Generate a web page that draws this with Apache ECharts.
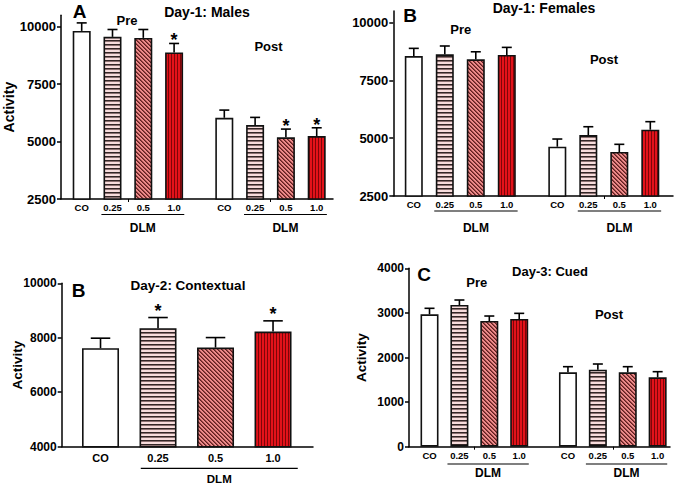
<!DOCTYPE html>
<html><head><meta charset="utf-8">
<script src="https://cdn.jsdelivr.net/npm/echarts@6/dist/echarts.min.js"></script>
<style>html,body{margin:0;padding:0;background:#fff}#c{width:680px;height:486px}</style>
</head><body><div id="c"></div>
<script>
// ---------- data ----------
const doseLabels = ['CO', '0.25', '0.5', '1.0', 'CO', '0.25', '0.5', '1.0'];
const dayPos = [0, 1, 2, 3, 4.63, 5.63, 6.63, 7.63];
const ctxLabels = ['CO', '0.25', '0.5', '1.0'];
const ctxPos = [0, 1, 2, 3];

const malesMean = [9817, 9557, 9513, 8878, 6035, 5717, 5183, 5239];
const malesSem = [348, 321, 365, 392, 335, 335, 360, 361];
const malesSig = [0, 0, 0, 1, 0, 0, 1, 1];

const femalesMean = [8555, 8630, 8413, 8600, 4632, 5138, 4403, 5369];
const femalesSem = [333, 360, 327, 330, 333, 359, 333, 347];
const femalesSig = [0, 0, 0, 0, 0, 0, 0, 0];

const contextMean = [7618, 8353, 7640, 8228];
const contextSem = [367, 390, 367, 393];
const contextSig = [0, 1, 0, 1];

const cuedMean = [2969, 3177, 2818, 2863, 1668, 1726, 1668, 1556];
const cuedSem = [134, 112, 112, 127, 126, 128, 126, 126];
const cuedSig = [0, 0, 0, 0, 0, 0, 0, 0];

const ticksDay1 = [2500, 5000, 7500, 10000];
const ticksCtx = [4000, 6000, 8000, 10000];
const ticksCued = [0, 1000, 2000, 3000, 4000];

// ---------- styles ----------
const FONT = '"Liberation Sans", Arial, sans-serif';

function makePattern(kind) {
  const c = document.createElement('canvas');
  let w = 4, h = 4;
  if (kind === 'vert') { w = 3; h = 3; }
  c.width = w; c.height = h;
  const g = c.getContext('2d');
  if (kind === 'horiz') {
    g.fillStyle = '#f7dcdc'; g.fillRect(0, 0, w, h);
    g.fillStyle = '#332626'; g.fillRect(0, 0, w, 1);
    g.fillStyle = '#8a7070'; g.fillRect(0, 1, w, 1);
  } else if (kind === 'diag') {
    g.fillStyle = '#ec8a8a'; g.fillRect(0, 0, w, h);
    for (let y = 0; y < h; y++) for (let x = 0; x < w; x++) {
      const k = ((x - y) % 4 + 4) % 4;
      if (k === 0) { g.fillStyle = '#5e2020'; g.fillRect(x, y, 1, 1); }
      else if (k === 1) { g.fillStyle = '#9a4444'; g.fillRect(x, y, 1, 1); }
    }
  } else {
    g.fillStyle = '#e3121a'; g.fillRect(0, 0, w, h);
    g.fillStyle = '#7d0508'; g.fillRect(0, 0, 1, h);
  }
  return { image: c, repeat: 'repeat', imageWidth: w, imageHeight: h };
}
const fills = ['#ffffff', makePattern('horiz'), makePattern('diag'), makePattern('vert')];

const panels = [
  { grid: { left: 61, top: 15.2, width: 272, height: 183.8 }, xMin: -0.672, xMax: 8.159,
    pos: dayPos, labels: doseLabels, mean: malesMean, sem: malesSem, sig: malesSig,
    yMin: 2500, yMax: 10500, yTicks: ticksDay1, yFont: 13, xFont: 9.5, xMargin: 3.5, barW: 18,
    name: 'Activity', nameGap: 45, nameFont: 14, starUp: 3, extraTicks: [1.5, 6.13],
    groups: [[1, 3], [5, 7]], lineL: -0.36, lineR: 0.33, lineDy: 15.5, textDy: 29, dlmFont: 12 },
  { grid: { left: 393.3, top: 11.1, width: 279.7, height: 184.9 }, xMin: -0.661, xMax: 8.362,
    pos: dayPos, labels: doseLabels, mean: femalesMean, sem: femalesSem, sig: femalesSig,
    yMin: 2500, yMax: 10500, yTicks: ticksDay1, yFont: 13, xFont: 9.5, xMargin: 3.5, barW: 18,
    name: '', nameGap: 46, nameFont: 14, starUp: 3, extraTicks: [6.13],
    groups: [[1, 3], [5, 7]], lineL: -0.34, lineR: 0.35, lineDy: 15, textDy: 31.5, dlmFont: 12 },
  { grid: { left: 61.7, top: 283.3, width: 251.3, height: 163.4 }, xMin: -0.675, xMax: 3.695,
    pos: ctxPos, labels: ctxLabels, mean: contextMean, sem: contextSem, sig: contextSig,
    yMin: 4000, yMax: 10000, yTicks: ticksCtx, yFont: 12, xFont: 11, xMargin: 6, barW: 37,
    name: 'Activity', nameGap: 37, nameFont: 13.5, starUp: 7, extraTicks: [],
    groups: [[1, 3]], lineL: -0.3, lineR: 0.43, lineDy: 21.6, textDy: 32.6, dlmFont: 11.5 },
  { grid: { left: 409, top: 268.3, width: 261, height: 178.4 }, xMin: -0.686, xMax: 8.043,
    pos: dayPos, labels: doseLabels, mean: cuedMean, sem: cuedSem, sig: cuedSig,
    yMin: 0, yMax: 4000, yTicks: ticksCued, yFont: 12, xFont: 9.5, xMargin: 3.5, barW: 18,
    name: 'Activity', nameGap: 41, nameFont: 13.5, starUp: 3, extraTicks: [1.5, 6.13],
    groups: [[1, 3], [5, 7]], lineL: -0.4, lineR: 0.32, lineDy: 17.3, textDy: 26.6, dlmFont: 12 }
];

const texts = [
  ['A', 79.5, 11, 19], ['Day-1: Males', 207, 12.3, 14], ['Pre', 127, 20, 13], ['Post', 268.5, 46, 13],
  ['B', 410, 15, 19], ['Day-1: Females', 544, 7.5, 14], ['Pre', 460.7, 29, 13], ['Post', 604, 59, 13],
  ['B', 78.5, 290, 19], ['Day-2: Contextual', 188, 285, 13.5],
  ['C', 424, 274, 19], ['Day-3: Cued', 550, 271, 13], ['Pre', 476.7, 282.7, 13], ['Post', 609, 314, 13]
];

function textEl(t, x, y, size) {
  return { type: 'text', x: x, y: y, silent: true,
    style: { text: t, fill: '#000', font: 'bold ' + size + 'px ' + FONT,
      align: 'center', verticalAlign: 'middle', textAlign: 'center', textVerticalAlign: 'middle' } };
}

const grids = [], xAxes = [], yAxes = [], series = [];
panels.forEach((p, i) => {
  grids.push(Object.assign({ containLabel: false }, p.grid));
  xAxes.push({
    type: 'value', gridIndex: i, min: p.xMin, max: p.xMax,
    axisLine: { show: true, onZero: false, lineStyle: { color: '#000', width: 1.5 } },
    axisTick: { show: p.extraTicks.length > 0, customValues: p.extraTicks, length: 3, inside: false, lineStyle: { color: '#000', width: 1 } },
    splitLine: { show: false },
    axisLabel: {
      customValues: p.pos, margin: p.xMargin, color: '#000', fontWeight: 'bold', fontFamily: FONT, fontSize: p.xFont,
      formatter: (v) => { const k = p.pos.findIndex(q => Math.abs(q - v) < 1e-6); return k >= 0 ? p.labels[k] : ''; }
    }
  });
  yAxes.push({
    type: 'value', gridIndex: i, min: p.yMin, max: p.yMax,
    name: p.name, nameLocation: 'middle', nameGap: p.nameGap, nameRotate: 90, nameMoveOverlap: false,
    nameTextStyle: { color: '#000', fontWeight: 'bold', fontFamily: FONT, fontSize: p.nameFont },
    axisLine: { show: true, onZero: false, lineStyle: { color: '#000', width: 1.5 } },
    axisTick: { show: true, customValues: p.yTicks, length: 4, lineStyle: { color: '#000', width: 1.5 } },
    splitLine: { show: false },
    axisLabel: { customValues: p.yTicks, margin: 5, color: '#000', fontWeight: 'bold', fontFamily: FONT, fontSize: p.yFont,
      formatter: (v) => String(v) }
  });
  series.push({
    type: 'bar', xAxisIndex: i, yAxisIndex: i, barWidth: p.barW, silent: true,
    data: p.mean.map((m, k) => ({
      value: [p.pos[k], m],
      itemStyle: { color: fills[k % 4], borderColor: '#111', borderWidth: 1.6 }
    }))
  });
  series.push({
    type: 'custom', xAxisIndex: i, yAxisIndex: i, silent: true, z: 5,
    data: p.mean.map((m, k) => [p.pos[k], m, p.sem[k], p.sig[k]]),
    renderItem: (params, api) => {
      const x = api.value(0), m = api.value(1), e = api.value(2), s = api.value(3);
      const a = api.coord([x, m]), b = api.coord([x, m + e]);
      const half = p.barW / 4 + 0.5;
      const ls = { stroke: '#000', lineWidth: 1.6 };
      const ch = [
        { type: 'line', shape: { x1: a[0], y1: a[1], x2: b[0], y2: b[1] }, style: ls },
        { type: 'line', shape: { x1: b[0] - half, y1: b[1], x2: b[0] + half, y2: b[1] }, style: ls }
      ];
      if (s) ch.push(textEl('*', b[0], b[1] - p.starUp, 18));
      return { type: 'group', children: ch };
    }
  });
});

const chart = echarts.init(document.getElementById('c'), null, { renderer: 'svg', width: 680, height: 486 });
chart.setOption({
  animation: false,
  backgroundColor: '#fff',
  grid: grids, xAxis: xAxes, yAxis: yAxes, series: series
});

const gfx = texts.map(t => textEl(t[0], t[1], t[2], t[3]));
panels.forEach((p, i) => {
  p.groups.forEach(gp => {
    const l = chart.convertToPixel({ gridIndex: i }, [p.pos[gp[0]] + p.lineL, p.yMin]);
    const r = chart.convertToPixel({ gridIndex: i }, [p.pos[gp[1]] + p.lineR, p.yMin]);
    const y = l[1] + p.lineDy;
    gfx.push({ type: 'line', silent: true, shape: { x1: l[0], y1: y, x2: r[0], y2: y }, style: { stroke: '#000', lineWidth: 1.2 } });
    gfx.push(textEl('DLM', (l[0] + r[0]) / 2, l[1] + p.textDy, p.dlmFont));
  });
});
chart.setOption({ graphic: gfx });
</script>
</body></html>
